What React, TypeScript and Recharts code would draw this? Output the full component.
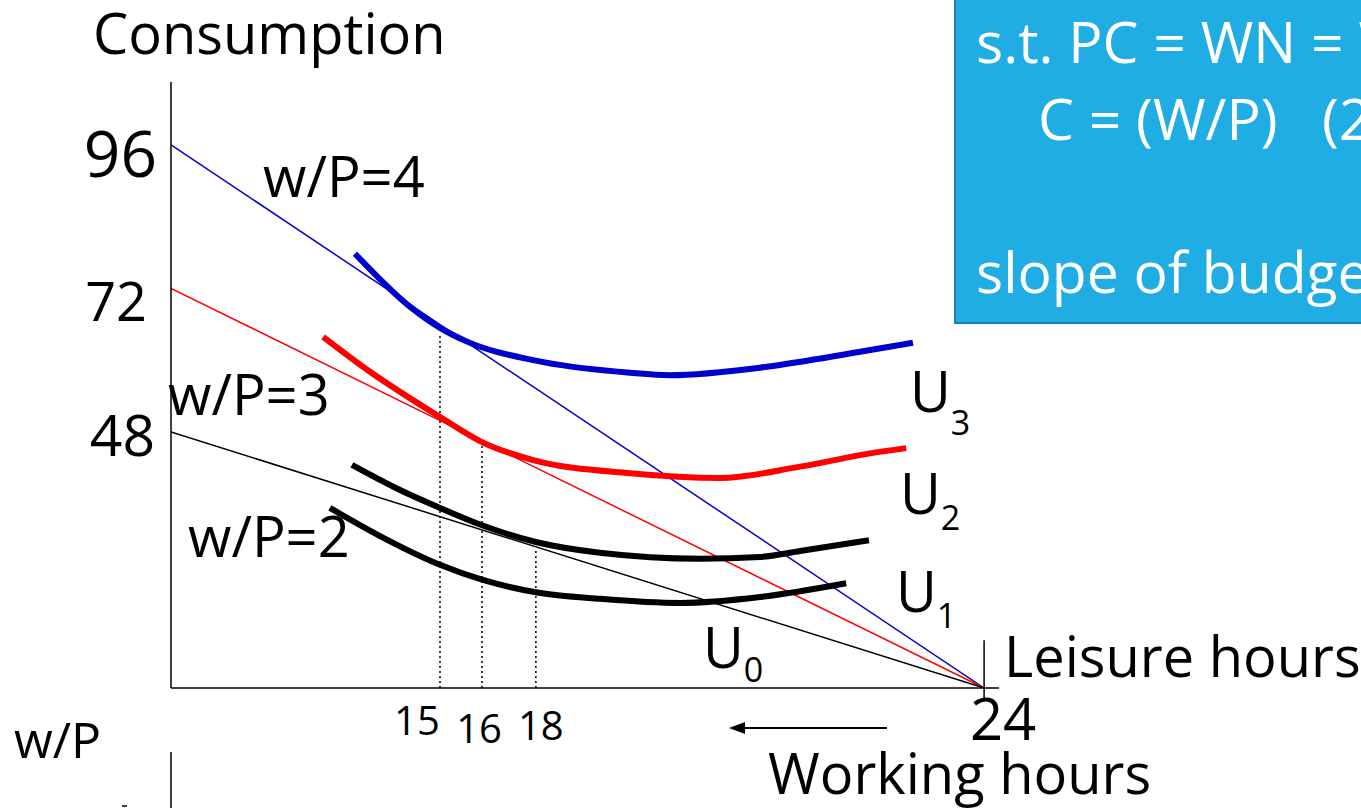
import React from 'react';
import { ComposedChart, Line, XAxis, YAxis, ReferenceLine } from 'recharts';

const FONT = '"Open Sans", sans-serif';

// hours in a day and the consumption level at which the leisure axis is drawn
const totalHours = 24;
const axisFloor = 5.2;

// budget lines: consumption at zero leisure for each real wage
const consumptionTicks = [96, 72, 48];
const wageLabels = ['w/P=4', 'w/P=3', 'w/P=2'];
const budgetColors = ['#0000cc', '#ff0000', '#000000'];

// dotted drop lines from the tangency points
const tangentLeisure = [7.94, 9.18, 10.77];
const tangentTop = [64.2, 46.3, 28.6];
const tangentLabels = ['15', '16', '18'];

// indifference curves [leisure, consumption]
const curveU3 = [[5.43, 77.8], [7.06, 68.9], [7.94, 65.4], [8.74, 63.1], [10.69, 60.0], [13.55, 57.9], [14.73, 57.5], [17.59, 58.9], [20.34, 61.4], [21.9, 62.9]];
const curveU2 = [[4.49, 63.9], [5.79, 58.4], [7.94, 50.5], [9.18, 46.3], [10.69, 43.3], [13.55, 41.1], [16.21, 40.3], [18.57, 42.2], [20.72, 44.5], [21.7, 45.3]];
const curveU1 = [[5.34, 42.5], [6.76, 38.3], [7.94, 35.3], [9.18, 32.4], [10.77, 29.6], [12.66, 27.8], [15.62, 26.8], [17.39, 27.1], [18.57, 28.1], [20.6, 29.9]];
const curveU0 = [[4.69, 35.3], [6.17, 30.6], [7.94, 25.8], [9.18, 23.3], [10.77, 21.2], [12.66, 20.1], [15.03, 19.4], [17.39, 20.4], [19.93, 22.7]];

const curves = [
  { pts: curveU3, color: '#0000cc' },
  { pts: curveU2, color: '#ff0000' },
  { pts: curveU1, color: '#000000' },
  { pts: curveU0, color: '#000000' },
];

const toPoints = (pts: number[][]) => pts.map(([x, y]) => ({ x, y }));

const yTickStyle: Record<number, { size: number; dx: number; dy: number }> = {
  96: { size: 64, dx: -14, dy: 32 },
  72: { size: 54, dx: -24, dy: 33 },
  48: { size: 57, dx: -16, dy: 24 },
};

const xTickStyle: Record<string, { size: number; dx: number; dy: number }> = {
  '15': { size: 40, dx: -23, dy: 47 },
  '16': { size: 40, dx: -3, dy: 55 },
  '18': { size: 40, dx: 5, dy: 52 },
  '24': { size: 58, dx: 19, dy: 52 },
};

const xLabel = (v: number) => {
  const i = tangentLeisure.indexOf(v);
  return i >= 0 ? tangentLabels[i] : String(totalHours);
};

const YTick = ({ x, y, payload }: any) => {
  const s = yTickStyle[payload.value];
  return (
    <text x={x + s.dx} y={y + s.dy} textAnchor="end" fontSize={s.size} fontFamily={FONT} fill="#000">
      {payload.value}
    </text>
  );
};

const XTick = ({ x, y, payload }: any) => {
  const label = xLabel(payload.value);
  const s = xTickStyle[label];
  return (
    <text x={x + s.dx} y={y + s.dy} textAnchor="middle" fontSize={s.size} fontFamily={FONT} fill="#000">
      {label}
    </text>
  );
};

const Overlay = () => (
  <svg width={1361} height={808} style={{ position: 'absolute', left: 0, top: 0, pointerEvents: 'none' }} fontFamily={FONT}>
    <text x={93} y={54} fontSize={56}>Consumption</text>
    <text x={263} y={197} fontSize={56}>{wageLabels[0]}</text>
    <text x={168} y={415} fontSize={56}>{wageLabels[1]}</text>
    <text x={188} y={557} fontSize={56}>{wageLabels[2]}</text>

    <text x={910} y={412} fontSize={56}>U<tspan fontSize={34} dy={23}>3</tspan></text>
    <text x={900} y={514} fontSize={56}>U<tspan fontSize={34} dy={16}>2</tspan></text>
    <text x={896} y={612} fontSize={56}>U<tspan fontSize={34} dy={16}>1</tspan></text>
    <text x={703} y={668} fontSize={56}>U<tspan fontSize={34} dy={14}>0</tspan></text>

    <text x={1004} y={677} fontSize={56}>Leisure hours</text>
    <text x={768} y={794} fontSize={56}>Working hours</text>
    <line x1={742} y1={728} x2={887} y2={728} stroke="#000" strokeWidth={2} />
    <polygon points="729,728 745,722 745,734" fill="#000" />

    <text x={14} y={758} fontSize={50}>w/P</text>
    <line x1={171} y1={752} x2={171} y2={808} stroke="#000" strokeWidth={1.5} />
    <line x1={122} y1={806} x2={127} y2={806} stroke="#000" strokeWidth={1.5} />

    <rect x={955} y={-2} width={420} height={325} fill="#1fade4" stroke="#1a82b0" strokeWidth={2} />
    <g fill="#fff" fontSize={57}>
      <text x={976} y={63}>s.t. PC = WN = W(24 − L)</text>
      <text x={1038} y={140}>{'C = (W/P)\u00a0\u00a0 (24 − L)'}</text>
      <text x={976} y={293}>slope of budget line = −W/P</text>
    </g>
  </svg>
);

export default function App() {
  return (
    <div style={{ position: 'absolute', left: 0, top: 0, width: 1361, height: 808, background: '#fff', overflow: 'hidden' }}>
      <ComposedChart width={1361} height={808} margin={{ top: 82, right: 362, bottom: 0, left: 0 }}>
        <XAxis
          dataKey="x"
          type="number"
          domain={[0, 24.44]}
          ticks={[...tangentLeisure, totalHours]}
          interval={0}
          height={120}
          tickSize={0}
          tickMargin={0}
          tickLine={false}
          axisLine={{ stroke: '#000', strokeWidth: 1.5 }}
          tick={<XTick />}
          allowDataOverflow
        />
        <YAxis
          type="number"
          domain={[axisFloor, 106.5]}
          ticks={consumptionTicks}
          interval={0}
          width={171}
          tickSize={0}
          tickMargin={0}
          tickLine={false}
          axisLine={{ stroke: '#000', strokeWidth: 1.5 }}
          tick={<YTick />}
          allowDataOverflow
        />
        {tangentLeisure.map((x, i) => (
          <ReferenceLine
            key={`drop-${i}`}
            segment={[{ x, y: axisFloor }, { x, y: tangentTop[i] }]}
            stroke="#000"
            strokeWidth={1.5}
            strokeDasharray="2 3"
          />
        ))}
        <ReferenceLine
          segment={[{ x: totalHours, y: 13.2 }, { x: totalHours, y: 2.9 }]}
          stroke="#000"
          strokeWidth={1.5}
          ifOverflow="visible"
        />
        {consumptionTicks.map((c, i) => (
          <Line
            key={`budget-${i}`}
            data={[{ x: 0, y: c }, { x: totalHours, y: axisFloor }]}
            dataKey="y"
            type="linear"
            stroke={budgetColors[i]}
            strokeWidth={1.5}
            dot={false}
            activeDot={false}
            isAnimationActive={false}
          />
        ))}
        {curves.map((c, i) => (
          <Line
            key={`curve-${i}`}
            data={toPoints(c.pts)}
            dataKey="y"
            type="monotone"
            stroke={c.color}
            strokeWidth={6}
            dot={false}
            activeDot={false}
            isAnimationActive={false}
          />
        ))}
      </ComposedChart>
      <Overlay />
    </div>
  );
}
